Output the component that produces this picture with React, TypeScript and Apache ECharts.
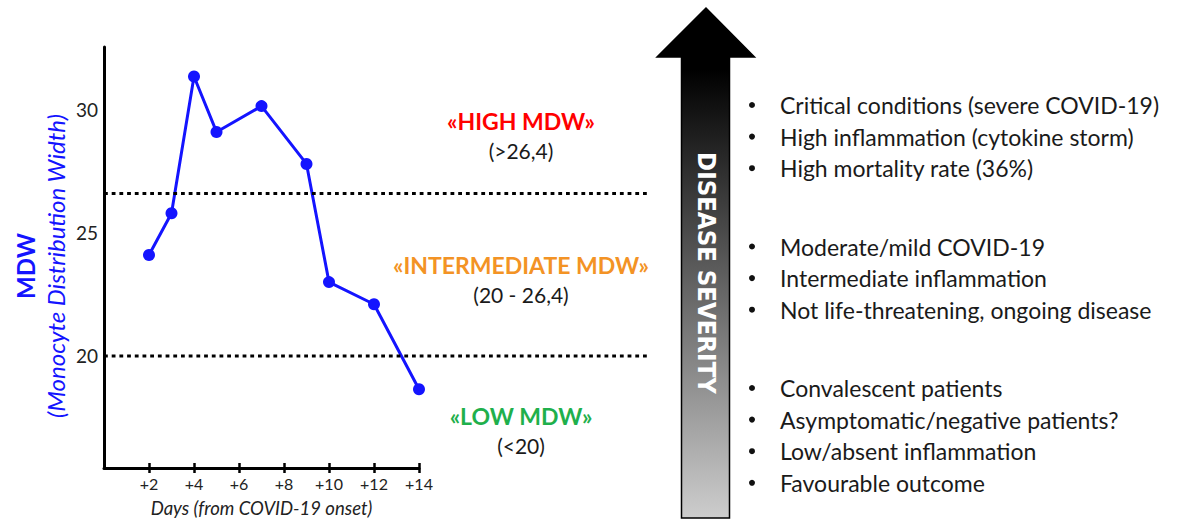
import React, { useEffect, useRef } from "react";
import * as echarts from "echarts";

// ---- data ----
const days = [2, 3, 4, 5, 7, 9, 10, 12, 14];
const mdwValues = [24.1, 25.8, 31.35, 29.1, 30.15, 27.8, 23.0, 22.1, 18.65];
const xTicks = [2, 4, 6, 8, 10, 12, 14];
const yTicks = [20, 25, 30];
const thresholds = [26.6, 20];

const zoneTitles = ["«HIGH MDW»", "«INTERMEDIATE MDW»", "«LOW MDW»"];
const zoneRanges = ["(>26,4)", "(20 - 26,4)", "(<20)"];
const zoneColors = ["#ff0000", "#f39325", "#1fb04c"];

const bulletsHigh = [
  "Critical conditions (severe COVID-19)",
  "High inflammation (cytokine storm)",
  "High mortality rate (36%)",
];
const bulletsMid = [
  "Moderate/mild COVID-19",
  "Intermediate inflammation",
  "Not life-threatening, ongoing disease",
];
const bulletsLow = [
  "Convalescent patients",
  "Asymptomatic/negative patients?",
  "Low/absent inflammation",
  "Favourable outcome",
];

const FONT = "Lato, 'Open Sans', sans-serif";
const BLUE = "#1414ff";

export default function App() {
  const ref = useRef<HTMLDivElement>(null);

  useEffect(() => {
    if (!ref.current) return;
    const chart = echarts.init(ref.current, undefined, { renderer: "svg" });

    const xAxisCommon = {
      type: "value",
      min: 0,
      max: 14,
      splitLine: { show: false },
    };

    chart.setOption({
      animation: false,
      backgroundColor: "#ffffff",
      grid: { left: 104, top: 47, width: 315, height: 426, containLabel: false },
      xAxis: [
        {
          ...xAxisCommon,
          axisLine: { show: true, lineStyle: { color: "#000", width: 3 } },
          axisTick: {
            show: true,
            customValues: xTicks,
            length: 5,
            lineStyle: { color: "#000", width: 2.5 },
          },
          axisLabel: {
            customValues: xTicks,
            formatter: (v: number) => "+" + v,
            color: "#222",
            fontFamily: FONT,
            fontSize: 16,
            margin: 7,
          },
          name: "Days (from COVID-19 onset)",
          nameLocation: "middle",
          nameGap: 30,
          nameTextStyle: {
            fontFamily: FONT,
            fontStyle: "italic",
            fontSize: 18.5,
            color: "#222",
          },
        },
        {
          ...xAxisCommon,
          position: "bottom",
          axisLine: { show: false },
          axisTick: {
            show: true,
            inside: true,
            customValues: xTicks,
            length: 5,
            lineStyle: { color: "#000", width: 2.5 },
          },
          axisLabel: { show: false },
        },
      ],
      yAxis: {
        type: "value",
        min: 15.45,
        max: 32.55,
        splitLine: { show: false },
        axisLine: { show: true, lineStyle: { color: "#000", width: 3 } },
        axisTick: { show: false },
        axisLabel: {
          customValues: yTicks,
          color: "#222",
          fontFamily: FONT,
          fontSize: 19,
          margin: 6,
        },
      },
      series: [
        {
          type: "line",
          xAxisIndex: 0,
          data: days.map((d, i) => [d, mdwValues[i]]),
          symbol: "circle",
          symbolSize: 12,
          lineStyle: { color: BLUE, width: 3 },
          itemStyle: { color: BLUE },
        },
      ],
    });

    const graphics: any[] = [];

    // threshold dotted lines through the chart's own scale
    const x0 = chart.convertToPixel({ xAxisIndex: 0 }, 0) as number;
    thresholds.forEach((t) => {
      const py = chart.convertToPixel({ yAxisIndex: 0 }, t) as number;
      graphics.push({
        type: "line",
        shape: { x1: x0, y1: py, x2: 650, y2: py },
        style: { stroke: "#000", lineWidth: 3, lineDash: [3.8, 3.9] },
        z: 10,
      });
    });

    // y axis title
    graphics.push({
      type: "text",
      x: 25,
      y: 266,
      rotation: Math.PI / 2,
      style: {
        text: "MDW",
        fill: BLUE,
        font: `bold 24px ${FONT}`,
        textAlign: "center",
        textVerticalAlign: "middle",
      },
    });
    graphics.push({
      type: "text",
      x: 55,
      y: 266,
      rotation: Math.PI / 2,
      style: {
        text: "(Monocyte Distribution Width)",
        fill: BLUE,
        font: `italic 24px ${FONT}`,
        textAlign: "center",
        textVerticalAlign: "middle",
      },
    });

    // zone labels
    const zoneY = [121, 265, 416];
    zoneTitles.forEach((t, i) => {
      graphics.push({
        type: "text",
        x: 521,
        y: zoneY[i],
        style: {
          text: t,
          fill: zoneColors[i],
          font: `bold 23px ${FONT}`,
          textAlign: "center",
          textVerticalAlign: "middle",
        },
      });
      graphics.push({
        type: "text",
        x: 521,
        y: zoneY[i] + 29,
        style: {
          text: zoneRanges[i],
          fill: "#1a1a1a",
          font: `21px ${FONT}`,
          textAlign: "center",
          textVerticalAlign: "middle",
        },
      });
    });

    // severity arrow
    graphics.push({
      type: "polygon",
      shape: {
        points: [
          [681.5, 518],
          [681.5, 57],
          [657, 57],
          [706, 8],
          [754.5, 57],
          [729.5, 57],
          [729.5, 518],
        ],
      },
      style: {
        fill: new echarts.graphic.LinearGradient(0, 0, 0, 1, [
          { offset: 0, color: "#000000" },
          { offset: 0.12, color: "#000000" },
          { offset: 1, color: "#cdcdcd" },
        ]),
        stroke: "#000",
        lineWidth: 1.5,
      },
    });
    graphics.push({
      type: "text",
      x: 707,
      y: 273,
      rotation: -Math.PI / 2,
      style: {
        text: "DISEASE SEVERITY",
        fill: "#ffffff",
        font: "bold 25.5px 'Liberation Sans Narrow', 'DejaVu Sans Condensed', sans-serif",
        textAlign: "center",
        textVerticalAlign: "middle",
      },
    });

    // bullet lists
    const groups = [
      { items: bulletsHigh, y0: 105 },
      { items: bulletsMid, y0: 246.5 },
      { items: bulletsLow, y0: 388 },
    ];
    groups.forEach((g) => {
      g.items.forEach((item, j) => {
        const yy = g.y0 + j * 31.6;
        graphics.push({
          type: "circle",
          shape: { cx: 752, cy: yy, r: 3 },
          style: { fill: "#111" },
        });
        graphics.push({
          type: "text",
          x: 780,
          y: yy,
          style: {
            text: item,
            fill: "#1a1a1a",
            font: `23px ${FONT}`,
            textAlign: "left",
            textVerticalAlign: "middle",
          },
        });
      });
    });

    chart.setOption({ graphic: graphics });

    return () => chart.dispose();
  }, []);

  return (
    <div
      ref={ref}
      style={{ position: "fixed", left: 0, top: 0, width: 1183, height: 522 }}
    />
  );
}
